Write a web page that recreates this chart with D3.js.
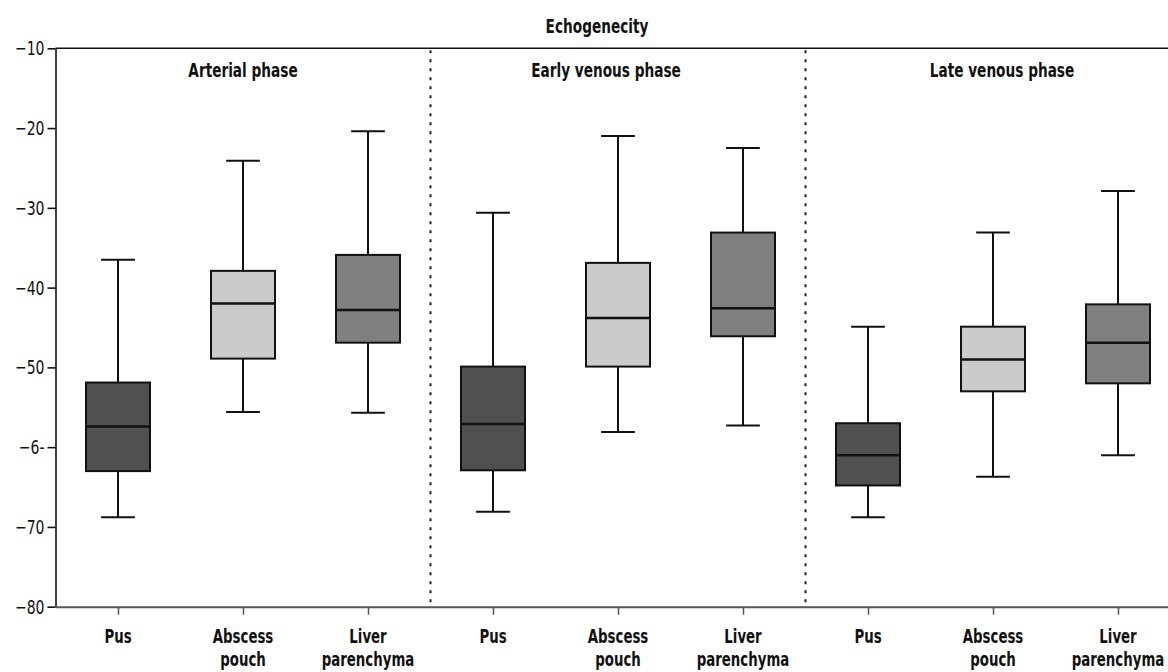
<!DOCTYPE html>
<html lang="en">
	<head>
		<meta charset="utf-8">
		<title>Echogenecity box plot</title>
		<script type="text/javascript" src="https://cdn.jsdelivr.net/npm/d3@7"></script>
		<style type="text/css">
			body { margin: 0; background: #fff; }
			text { font-family: "DejaVu Sans Condensed", "Liberation Sans Narrow", sans-serif; fill: #111; }
		</style>
	</head>
	<body>
		<div id="chart"></div>
		<script type="text/javascript">

		// data
		var phases = ["Arterial phase", "Early venous phase", "Late venous phase"];
		var tissues = ["Pus", "Abscess pouch", "Liver parenchyma"];
		var tissueLines = [["Pus"], ["Abscess", "pouch"], ["Liver", "parenchyma"]];

		// one value per box, in order: phase 1 (Pus, Abscess, Liver), phase 2, phase 3
		var whiskerLow  = [-68.8, -55.6, -55.7,   -68.1, -58.1, -57.3,   -68.8, -63.7, -61.0];
		var q1          = [-63.0, -48.9, -46.9,   -62.9, -49.9, -46.1,   -64.8, -53.0, -52.0];
		var median      = [-57.4, -42.0, -42.8,   -57.1, -43.8, -42.6,   -61.0, -49.0, -46.9];
		var q3          = [-51.9, -37.9, -35.9,   -49.9, -36.9, -33.1,   -57.0, -44.9, -42.1];
		var whiskerHigh = [-36.5, -24.1, -20.4,   -30.6, -21.0, -22.5,   -44.9, -33.1, -27.9];

		var yTicks = [-10, -20, -30, -40, -50, -60, -70, -80];
		var yTickLabels = ["\u221210", "\u221220", "\u221230", "\u221240", "\u221250", "\u22126-", "\u221270", "\u221280"];

		var w = 1168;
		var h = 672;
		var fills = ["#505050", "#cbcbcb", "#808080"];
		var narrow = 0.76;   // squeeze text to look like the condensed face

		var svg = d3.select("#chart")
					.append("svg")
					.attr("width", w)
					.attr("height", h);

		var idx = d3.range(whiskerLow.length);

		var x = d3.scalePoint()
				.domain(idx)
				.range([55.5, 1180.5])
				.padding(0.5);
		var step = x.step();
		var boxW = step * 0.512;
		var capW = step * 0.27;

		var y = d3.scaleLinear()
				.domain([-80, -10])
				.range([606.7, 48.3]);

		//title
		svg.append("text")
			.attr("transform", "translate(597,33) scale(" + narrow + ",1)")
			.attr("text-anchor", "middle")
			.attr("font-size", 20)
			.attr("font-weight", "bold")
			.text("Echogenecity");

		//top frame line
		svg.append("line")
			.attr("x1", x.range()[0]).attr("x2", x.range()[1])
			.attr("y1", y(-10)).attr("y2", y(-10))
			.attr("stroke", "#111")
			.attr("stroke-width", 1.6);

		//y axis
		var yAxis = svg.append("g")
			.attr("transform", "translate(" + x.range()[0] + ",0)")
			.call(d3.axisLeft(y)
				.tickValues(yTicks)
				.tickFormat(function(d, i) { return yTickLabels[i]; })
				.tickSize(8)
				.tickSizeOuter(0)
				.tickPadding(3));
		yAxis.select(".domain").attr("stroke", "#111").attr("stroke-width", 1.6);
		yAxis.selectAll(".tick line").attr("stroke", "#111").attr("stroke-width", 1.6);
		yAxis.selectAll(".tick text")
			.attr("font-size", 20)
			.attr("font-family", "DejaVu Sans Condensed, sans-serif")
			.attr("fill", "#111")
			.attr("x", null)
			.attr("transform", "translate(-11,0) scale(0.78,1)");

		//x axis
		var xAxis = svg.append("g")
			.attr("transform", "translate(0," + y(-80) + ")")
			.call(d3.axisBottom(x)
				.tickSize(8)
				.tickSizeOuter(0)
				.tickFormat(""));
		xAxis.select(".domain").attr("stroke", "#555").attr("stroke-width", 2);
		xAxis.selectAll(".tick line").attr("stroke", "#555").attr("stroke-width", 1.5);

		//category labels
		var catLabels = svg.selectAll(".cat")
			.data(idx)
			.enter()
			.append("text")
			.attr("class", "cat")
			.attr("text-anchor", "middle")
			.attr("font-size", 19.5)
			.attr("font-weight", "bold")
			.attr("transform", function(d) { return "translate(" + x(d) + ",643) scale(" + narrow + ",1)"; });
		catLabels.selectAll("tspan")
			.data(function(d) { return tissueLines[d % 3]; })
			.enter()
			.append("tspan")
			.attr("x", 0)
			.attr("dy", function(d, i) { return i == 0 ? 0 : 23; })
			.text(function(d) { return d; });

		//dotted dividers between phases
		svg.selectAll(".divider")
			.data([2, 5])
			.enter()
			.append("line")
			.attr("class", "divider")
			.attr("x1", function(d) { return x(d) + step / 2; })
			.attr("x2", function(d) { return x(d) + step / 2; })
			.attr("y1", y(-10) + 2)
			.attr("y2", y(-80) - 2)
			.attr("stroke", "#222")
			.attr("stroke-width", 2)
			.attr("stroke-dasharray", "3,6");

		//phase titles
		var titleDx = [0, -12, 9];
		svg.selectAll(".phase")
			.data(phases)
			.enter()
			.append("text")
			.attr("class", "phase")
			.attr("transform", function(d, i) {
				return "translate(" + (x(i * 3 + 1) + titleDx[i]) + ",77) scale(" + narrow + ",1)";
			})
			.attr("text-anchor", "middle")
			.attr("font-size", 20)
			.attr("font-weight", "bold")
			.text(function(d) { return d; });

		//boxes
		var box = svg.selectAll(".box")
			.data(idx)
			.enter()
			.append("g")
			.attr("class", "box");

		box.append("line")
			.attr("x1", function(d) { return x(d); })
			.attr("x2", function(d) { return x(d); })
			.attr("y1", function(d) { return y(whiskerHigh[d]); })
			.attr("y2", function(d) { return y(whiskerLow[d]); })
			.attr("stroke", "#111")
			.attr("stroke-width", 2);

		box.selectAll(".cap")
			.data(function(d) { return [[d, whiskerHigh[d]], [d, whiskerLow[d]]]; })
			.enter()
			.append("line")
			.attr("class", "cap")
			.attr("x1", function(d) { return x(d[0]) - capW / 2; })
			.attr("x2", function(d) { return x(d[0]) + capW / 2; })
			.attr("y1", function(d) { return y(d[1]); })
			.attr("y2", function(d) { return y(d[1]); })
			.attr("stroke", "#111")
			.attr("stroke-width", 2);

		box.append("rect")
			.attr("x", function(d) { return x(d) - boxW / 2; })
			.attr("y", function(d) { return y(q3[d]); })
			.attr("width", boxW)
			.attr("height", function(d) { return y(q1[d]) - y(q3[d]); })
			.attr("fill", function(d) { return fills[d % 3]; })
			.attr("stroke", "#111")
			.attr("stroke-width", 2);

		box.append("line")
			.attr("x1", function(d) { return x(d) - boxW / 2; })
			.attr("x2", function(d) { return x(d) + boxW / 2; })
			.attr("y1", function(d) { return y(median[d]); })
			.attr("y2", function(d) { return y(median[d]); })
			.attr("stroke", "#111")
			.attr("stroke-width", 2.5);

		</script>
	</body>
</html>
